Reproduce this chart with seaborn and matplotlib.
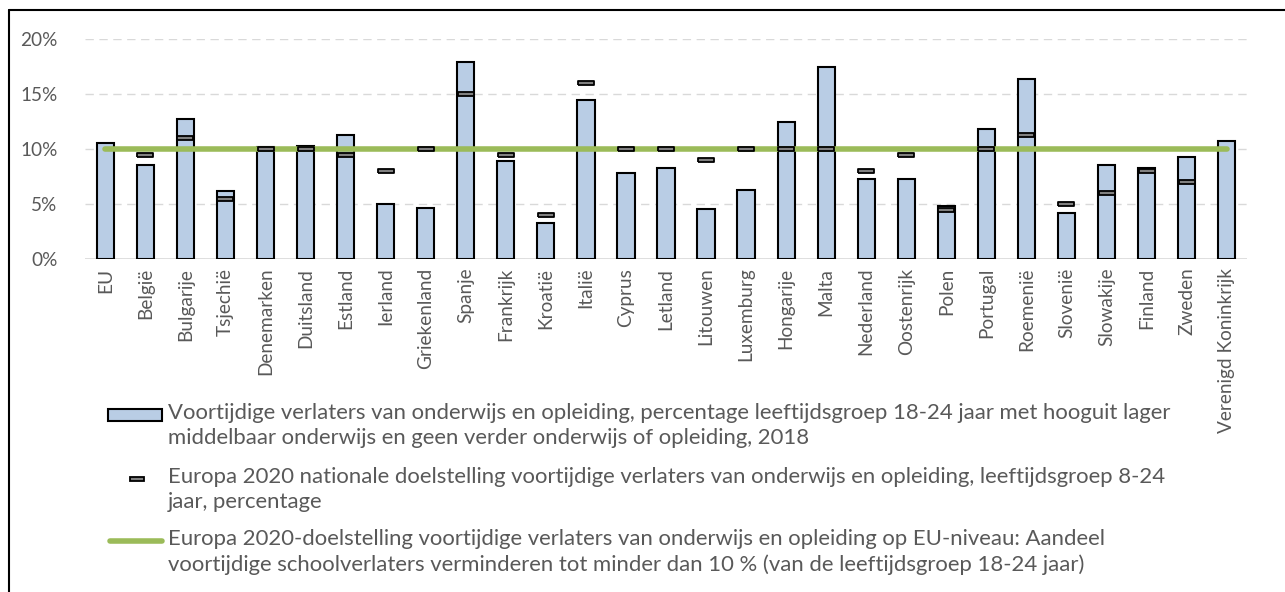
import seaborn as sns
import matplotlib.pyplot as plt
import matplotlib.patches as mpatches
import matplotlib.lines as mlines
import numpy as np
import pandas as pd

# DATA
landen = ['EU', 'België', 'Bulgarije', 'Tsjechië', 'Denemarken', 'Duitsland', 'Estland',
          'Ierland', 'Griekenland', 'Spanje', 'Frankrijk', 'Kroatië', 'Italië', 'Cyprus',
          'Letland', 'Litouwen', 'Luxemburg', 'Hongarije', 'Malta', 'Nederland', 'Oostenrijk',
          'Polen', 'Portugal', 'Roemenië', 'Slovenië', 'Slowakije', 'Finland', 'Zweden',
          'Verenigd Koninkrijk']
verlaters_2018 = [10.6, 8.6, 12.7, 6.2, 10.2, 10.3, 11.3, 5.0, 4.7, 17.9, 8.9, 3.3, 14.5, 7.8,
                  8.3, 4.6, 6.3, 12.5, 17.5, 7.3, 7.3, 4.8, 11.8, 16.4, 4.2, 8.6, 8.3, 9.3, 10.7]
nationale_doel = [np.nan, 9.5, 11.0, 5.5, 10.0, 10.0, 9.5, 8.0, 10.0, 15.0, 9.5, 4.0, 16.0, 10.0,
                  10.0, 9.0, 10.0, 10.0, 10.0, 8.0, 9.5, 4.5, 10.0, 11.3, 5.0, 6.0, 8.0, 7.0, np.nan]
eu_doel = [10.0] * len(landen)

labels = [
    'Voortijdige verlaters van onderwijs en opleiding, percentage leeftijdsgroep 18-24 jaar met hooguit lager\n'
    'middelbaar onderwijs en geen verder onderwijs of opleiding, 2018',
    'Europa 2020 nationale doelstelling voortijdige verlaters van onderwijs en opleiding, leeftijdsgroep 8-24\n'
    'jaar, percentage',
    'Europa 2020-doelstelling voortijdige verlaters van onderwijs en opleiding op EU-niveau: Aandeel\n'
    'voortijdige schoolverlaters verminderen tot minder dan 10 % (van de leeftijdsgroep 18-24 jaar)',
]

df = pd.DataFrame({'Land': landen, 'Waarde': verlaters_2018,
                   'Doel': nationale_doel, 'EU': eu_doel})

# STYLE
sns.set_theme(style='white')
plt.rcParams['font.family'] = ['Lato', 'DejaVu Sans']
tekst = '#595959'
blauw = '#B9CDE5'
groen = '#9BBB59'

fig = plt.figure(figsize=(12.85, 5.92), dpi=100)
ax = fig.add_axes([85.3 / 1285, 1 - 259.3 / 592, 1161.4 / 1285, 220.3 / 592])

sns.barplot(df, x='Land', y='Waarde', color=blauw, saturation=1, edgecolor='black',
            linewidth=1.5, width=0.43, ax=ax, zorder=2)
sns.lineplot(df, x='Land', y='EU', color=groen, linewidth=4, sort=False, ax=ax,
             solid_capstyle='round', zorder=3)

rect = [(-1, -0.27), (1, -0.27), (1, 0.27), (-1, 0.27), (-1, -0.27)]
sns.scatterplot(df, x='Land', y='Doel', marker=rect, s=120, color='#808080',
                edgecolor='black', linewidth=1.3, ax=ax, zorder=4)

ax.set_xlim(-0.5, len(landen) - 0.5)
ax.set_ylim(0, 20)
ax.set_yticks([0, 5, 10, 15, 20])
ax.set_yticklabels(['0%', '5%', '10%', '15%', '20%'])
ax.yaxis.grid(True, color='#D9D9D9', linestyle=(0, (6, 4)), linewidth=1, zorder=0)
ax.axhline(0, color='#D9D9D9', linewidth=1.2, zorder=1)
ax.set_axisbelow(True)
for s in ax.spines.values():
    s.set_visible(False)
ax.set_xlabel('')
ax.set_ylabel('')
ax.tick_params(axis='x', length=0, pad=6, labelsize=13.7, labelcolor=tekst, rotation=90)
ax.tick_params(axis='y', length=0, pad=20, labelsize=13.7, labelcolor=tekst)
for t in ax.get_xticklabels():
    t.set_verticalalignment('top')
if ax.get_legend():
    ax.get_legend().remove()

# LEGEND (drawn below the plot)
def fx(px):
    return px / 1285

def fy(py):
    return 1 - py / 592

fig.add_artist(mpatches.Rectangle((fx(108), fy(421)), fx(54), 12 / 592, facecolor=blauw,
                                  edgecolor='black', linewidth=1.5))
fig.add_artist(mpatches.Rectangle((fx(130), fy(481)), fx(14), 4 / 592, facecolor='#808080',
                                  edgecolor='black', linewidth=1.3))
fig.add_artist(mlines.Line2D([fx(110), fx(162)], [fy(541), fy(541)], color=groen, linewidth=4,
                             solid_capstyle='round'))
for lab, y in zip(labels, [415, 479, 541]):
    fig.text(fx(168), fy(y - 12), lab, color=tekst, fontsize=15.9, va='top', ha='left',
             linespacing=1.32)

# frame around the chart
fig.add_artist(mlines.Line2D([fx(9), fx(9)], [fy(10), 0], color='black', linewidth=1.5))
fig.add_artist(mlines.Line2D([fx(9), 1], [fy(10), fy(10)], color='black', linewidth=1.5))

fig.savefig('out.png', dpi=100)
